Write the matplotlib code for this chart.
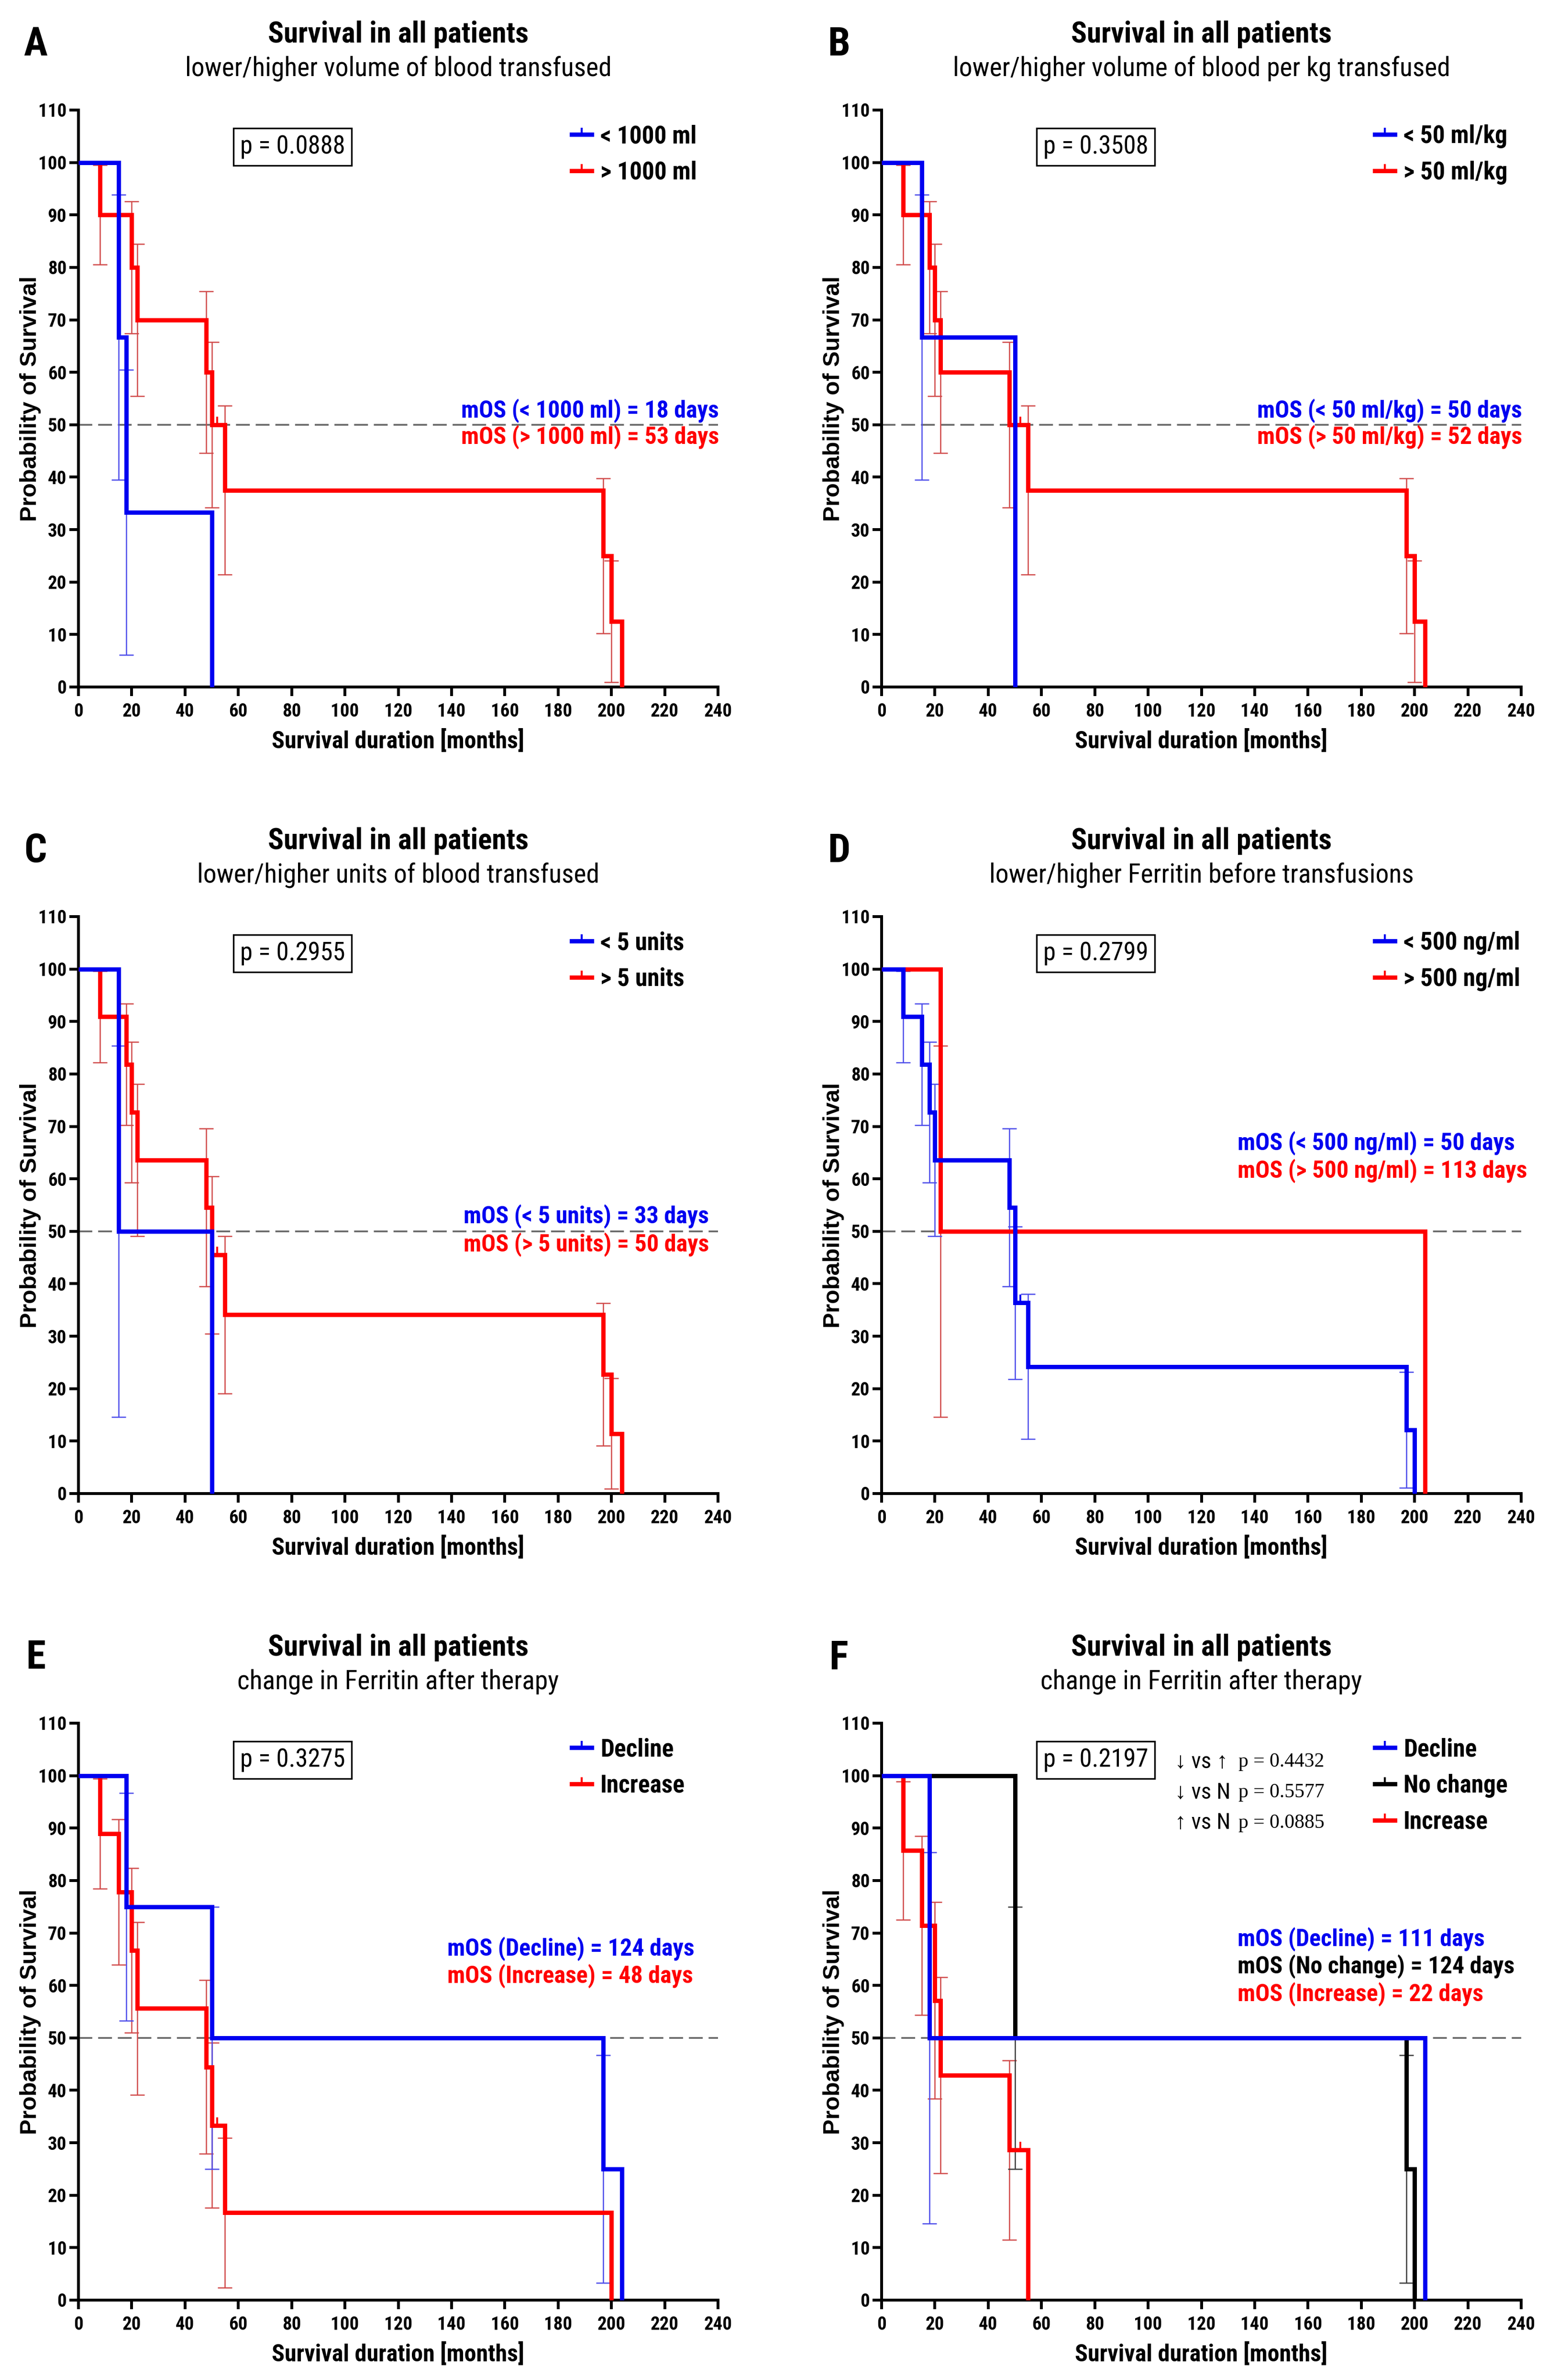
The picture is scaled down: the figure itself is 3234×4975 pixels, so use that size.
import numpy as np
import matplotlib
matplotlib.use("Agg")
import matplotlib.pyplot as plt
from matplotlib import font_manager
from matplotlib.path import Path
from matplotlib.lines import Line2D


# =====================================================
# 1. DATA (months, survival in %)
# =====================================================
title = "Survival in all patients"

# A - volume of blood transfused
a_sub = "lower/higher volume of blood transfused"
a_p = "p = 0.0888"
a_labels = ["< 1000 ml", "> 1000 ml"]
a_mos = ["mOS (< 1000 ml) = 18 days", "mOS (> 1000 ml) = 53 days"]
a_lo_t = [0, 15, 18, 50]
a_lo_s = [100, 66.7, 33.3, 0]
a_lo_eb_t = [15, 18]
a_lo_eb_min = [39.5, 6.1]
a_lo_eb_max = [93.9, 60.5]
a_hi_t = [0, 8, 20, 22, 48, 50, 55, 197, 200, 204]
a_hi_s = [100, 90, 80, 70, 60, 50, 37.5, 25, 12.5, 0]
a_hi_eb_t = [8, 20, 22, 48, 50, 55, 197, 200]
a_hi_eb_min = [80.5, 67.4, 55.5, 44.6, 34.2, 21.4, 10.2, 0.9]
a_hi_eb_max = [99.5, 92.6, 84.5, 75.4, 65.8, 53.6, 39.8, 24.1]
a_hi_cens = [52]

# B - volume of blood per kg
b_sub = "lower/higher volume of blood per kg transfused"
b_p = "p = 0.3508"
b_labels = ["< 50 ml/kg", "> 50 ml/kg"]
b_mos = ["mOS (< 50 ml/kg) = 50 days", "mOS (> 50 ml/kg) = 52 days"]
b_lo_t = [0, 15, 50]
b_lo_s = [100, 66.7, 0]
b_lo_eb_t = [15]
b_lo_eb_min = [39.5]
b_lo_eb_max = [93.9]
b_hi_t = [0, 8, 18, 20, 22, 48, 55, 197, 200, 204]
b_hi_s = [100, 90, 80, 70, 60, 50, 37.5, 25, 12.5, 0]
b_hi_eb_t = [8, 18, 20, 22, 48, 55, 197, 200]
b_hi_eb_min = [80.5, 67.4, 55.5, 44.6, 34.2, 21.4, 10.2, 0.9]
b_hi_eb_max = [99.5, 92.6, 84.5, 75.4, 65.8, 53.6, 39.8, 24.1]
b_hi_cens = [52]

# C - units of blood
c_sub = "lower/higher units of blood transfused"
c_p = "p = 0.2955"
c_labels = ["< 5 units", "> 5 units"]
c_mos = ["mOS (< 5 units) = 33 days", "mOS (> 5 units) = 50 days"]
c_lo_t = [0, 15, 50]
c_lo_s = [100, 50, 0]
c_lo_eb_t = [15]
c_lo_eb_min = [14.6]
c_lo_eb_max = [85.4]
c_hi_t = [0, 8, 18, 20, 22, 48, 50, 55, 197, 200, 204]
c_hi_s = [100, 90.9, 81.8, 72.7, 63.6, 54.5, 45.5, 34.1, 22.7, 11.4, 0]
c_hi_eb_t = [8, 18, 20, 22, 48, 50, 55, 197, 200]
c_hi_eb_min = [82.2, 70.2, 59.3, 49.1, 39.5, 30.5, 19.1, 9.1, 0.9]
c_hi_eb_max = [99.6, 93.4, 86.1, 78.1, 69.6, 60.5, 49.1, 36.3, 22.0]
c_hi_cens = [52]

# D - ferritin before transfusions
d_sub = "lower/higher Ferritin before transfusions"
d_p = "p = 0.2799"
d_labels = ["< 500 ng/ml", "> 500 ng/ml"]
d_mos = ["mOS (< 500 ng/ml) = 50 days", "mOS (> 500 ng/ml) = 113 days"]
d_lo_t = [0, 8, 15, 18, 20, 48, 50, 55, 197, 200]
d_lo_s = [100, 90.9, 81.8, 72.7, 63.6, 54.5, 36.4, 24.2, 12.1, 0]
d_lo_eb_t = [8, 15, 18, 20, 48, 50, 55, 197]
d_lo_eb_min = [82.2, 70.2, 59.3, 49.1, 39.5, 21.8, 10.4, 1.1]
d_lo_eb_max = [99.6, 93.4, 86.1, 78.1, 69.6, 50.9, 38.0, 23.2]
d_lo_cens = [52]
d_hi_t = [0, 22, 204]
d_hi_s = [100, 50, 0]
d_hi_eb_t = [22]
d_hi_eb_min = [14.6]
d_hi_eb_max = [85.4]

# E - change in ferritin (2 groups)
e_sub = "change in Ferritin after therapy"
e_p = "p = 0.3275"
e_labels = ["Decline", "Increase"]
e_mos = ["mOS (Decline) = 124 days", "mOS (Increase) = 48 days"]
e_dec_t = [0, 18, 50, 197, 204]
e_dec_s = [100, 75, 50, 25, 0]
e_dec_eb_t = [18, 50, 197]
e_dec_eb_min = [53.3, 25.0, 3.3]
e_dec_eb_max = [96.7, 75.0, 46.7]
e_inc_t = [0, 8, 15, 20, 22, 48, 50, 55, 200]
e_inc_s = [100, 88.9, 77.8, 66.7, 55.6, 44.4, 33.3, 16.7, 0]
e_inc_eb_t = [8, 15, 20, 22, 48, 50, 55]
e_inc_eb_min = [78.4, 63.9, 51.0, 39.1, 27.9, 17.6, 2.4]
e_inc_eb_max = [99.4, 91.7, 82.4, 72.1, 61.0, 49.1, 30.9]
e_inc_cens = [52]

# F - change in ferritin (3 groups)
f_sub = "change in Ferritin after therapy"
f_p = "p = 0.2197"
f_labels = ["Decline", "No change", "Increase"]
f_mos = ["mOS (Decline) = 111 days", "mOS (No change) = 124 days", "mOS (Increase) = 22 days"]
f_pair_lab = ["\u2193 vs \u2191", "\u2193 vs N", "\u2191 vs N"]
f_pair_p = ["p = 0.4432", "p = 0.5577", "p = 0.0885"]
f_dec_t = [0, 18, 204]
f_dec_s = [100, 50, 0]
f_dec_eb_t = [18]
f_dec_eb_min = [14.6]
f_dec_eb_max = [85.4]
f_nc_t = [0, 50, 197, 200]
f_nc_s = [100, 50, 25, 0]
f_nc_eb_t = [50, 197]
f_nc_eb_min = [25.0, 3.3]
f_nc_eb_max = [75.0, 46.7]
f_inc_t = [0, 8, 15, 20, 22, 48, 55]
f_inc_s = [100, 85.7, 71.4, 57.1, 42.9, 28.6, 0]
f_inc_eb_t = [8, 15, 20, 22, 48]
f_inc_eb_min = [72.5, 54.4, 38.4, 24.2, 11.5]
f_inc_eb_max = [98.9, 88.5, 75.9, 61.6, 45.7]
f_inc_cens = [52]

x_ticks = list(range(0, 241, 20))
y_ticks = list(range(0, 111, 10))


# =====================================================
# 2. STYLE
# =====================================================
# the original figure is horizontally squeezed -> use a narrow face if there is one
fonts = font_manager.fontManager.ttflist
bold_ok = {f.name for f in fonts if f.weight in (700, "bold")}
SANS, K = "Liberation Sans", 0.9
for cand in ["Liberation Sans Narrow", "Arial Narrow", "Roboto Condensed",
             "PT Sans Narrow", "Archivo Narrow", "Open Sans Condensed"]:
    if cand in bold_ok:
        SANS, K = cand, 1.0
        break

plt.rcParams["font.family"] = [SANS, "Liberation Sans", "DejaVu Sans"]
plt.rcParams["font.weight"] = "bold"

BLUE, RED, BLACK = "#0000f0", "#ff0000", "#000000"
EB_COL = {BLUE: "#4b4bea", RED: "#d04848", BLACK: "#3a3a3a"}
LW = 6.5
TICK = Path([(0, 0), (0, 1)], [Path.MOVETO, Path.LINETO])

W, H = 3234, 4975
AX_W, AX_H = 1337 / W, 1206 / H
COLS = [164 / W, 1843 / W]
ROWS = [(H - 1436) / H, (H - 3122) / H, (H - 4808) / H]


def km(ax, t, s, color, eb_t, eb_min, eb_max, cens=None, z=3):
    t = np.array(t, float)
    s = np.array(s, float)
    ax.plot(t, s, drawstyle="steps-post", color=color, lw=LW, zorder=z,
            clip_on=False, solid_joinstyle="miter", solid_capstyle="butt")
    idx = np.searchsorted(t, eb_t, side="right") - 1
    ys = s[idx]
    err = [ys - np.array(eb_min), np.array(eb_max) - ys]
    ax.errorbar(eb_t, ys, yerr=err, fmt="none", ecolor=EB_COL[color],
                elinewidth=1.8, capsize=11, capthick=1.8, zorder=2, clip_on=False)
    if cens:
        ic = np.searchsorted(t, cens, side="right") - 1
        ax.plot(cens, s[ic], ls="none", marker=TICK, ms=24, mew=2.8,
                color=color, zorder=z)


def panel(ax, letter, sub, ptxt, curves, labels, mos, mos_x, mos_y):
    ax.set_xlim(0, 240)
    ax.set_ylim(0, 110)
    ax.set_xticks(x_ticks)
    ax.set_yticks(y_ticks)
    for sp in ["top", "right"]:
        ax.spines[sp].set_visible(False)
    for sp in ["left", "bottom"]:
        ax.spines[sp].set_linewidth(4.3)
    ax.tick_params(axis="both", width=4.3, length=14, labelsize=28 * K)
    ax.tick_params(axis="x", pad=10)
    ax.tick_params(axis="y", pad=4)

    ax.axhline(50, color="#666666", lw=2.6, ls=(0, (8, 3.4)), zorder=1)

    for (t, s, eb_t, eb_min, eb_max, cens, color, z) in curves:
        km(ax, t, s, color, eb_t, eb_min, eb_max, cens, z)

    ax.set_xlabel("Survival duration [months]", fontsize=36 * K, fontweight="bold")
    ax.xaxis.set_label_coords(0.5, -0.073)
    ax.set_ylabel("Probability of Survival", fontsize=35, fontweight="bold",
                  family=["Liberation Sans", "DejaVu Sans"])
    ax.yaxis.set_label_coords(-0.058, 0.5)

    ax.text(0.5, 1.131, title, transform=ax.transAxes, ha="center", va="center",
            fontsize=44 * K, fontweight="bold")
    ax.text(0.5, 1.072, sub, transform=ax.transAxes, ha="center", va="center",
            fontsize=40 * K, fontweight="normal")
    ax.text(-0.067, 1.113, letter, transform=ax.transAxes, ha="center", va="center",
            fontsize=60 * K, fontweight="bold")

    ax.text(80.3, 103, ptxt, ha="center", va="center", fontsize=38 * K,
            fontweight="normal",
            bbox=dict(boxstyle="square,pad=0.26", fc="white", ec="black", lw=2.4))

    # legend and median texts follow legend order (blue first)
    leg_colors = [c[6] for c in curves][::-1]
    handles = [Line2D([], [], color=c, lw=LW, marker=TICK, ms=20, mew=3)
               for c in leg_colors]
    ax.legend(handles, labels, loc="upper left", bbox_to_anchor=(185 / 240, 0.975),
              frameon=False, borderpad=0, borderaxespad=0, numpoints=1,
              handlelength=0.82, handletextpad=0.35, labelspacing=0.5,
              prop={"size": 37 * K, "weight": "bold"})

    for txt, yy, c in zip(mos, mos_y, leg_colors):
        ax.text(mos_x, yy, txt, color=c, ha="left", va="center",
                fontsize=36 * K, fontweight="bold")


# =====================================================
# 3. FIGURE
# =====================================================
fig = plt.figure(figsize=(W / 100, H / 100), dpi=100)

axA = fig.add_axes([COLS[0], ROWS[0], AX_W, AX_H])
panel(axA, "A", a_sub, a_p,
      [(a_hi_t, a_hi_s, a_hi_eb_t, a_hi_eb_min, a_hi_eb_max, a_hi_cens, RED, 3),
       (a_lo_t, a_lo_s, a_lo_eb_t, a_lo_eb_min, a_lo_eb_max, None, BLUE, 5)],
      a_labels, a_mos, 143.6, [52.7, 47.6])

axB = fig.add_axes([COLS[1], ROWS[0], AX_W, AX_H])
panel(axB, "B", b_sub, b_p,
      [(b_hi_t, b_hi_s, b_hi_eb_t, b_hi_eb_min, b_hi_eb_max, b_hi_cens, RED, 3),
       (b_lo_t, b_lo_s, b_lo_eb_t, b_lo_eb_min, b_lo_eb_max, None, BLUE, 5)],
      b_labels, b_mos, 141.0, [52.7, 47.6])

axC = fig.add_axes([COLS[0], ROWS[1], AX_W, AX_H])
panel(axC, "C", c_sub, c_p,
      [(c_hi_t, c_hi_s, c_hi_eb_t, c_hi_eb_min, c_hi_eb_max, c_hi_cens, RED, 3),
       (c_lo_t, c_lo_s, c_lo_eb_t, c_lo_eb_min, c_lo_eb_max, None, BLUE, 5)],
      c_labels, c_mos, 144.5, [52.8, 47.5])

axD = fig.add_axes([COLS[1], ROWS[1], AX_W, AX_H])
panel(axD, "D", d_sub, d_p,
      [(d_hi_t, d_hi_s, d_hi_eb_t, d_hi_eb_min, d_hi_eb_max, None, RED, 3),
       (d_lo_t, d_lo_s, d_lo_eb_t, d_lo_eb_min, d_lo_eb_max, d_lo_cens, BLUE, 5)],
      d_labels, d_mos, 133.6, [66.8, 61.5])

axE = fig.add_axes([COLS[0], ROWS[2], AX_W, AX_H])
panel(axE, "E", e_sub, e_p,
      [(e_inc_t, e_inc_s, e_inc_eb_t, e_inc_eb_min, e_inc_eb_max, e_inc_cens, RED, 3),
       (e_dec_t, e_dec_s, e_dec_eb_t, e_dec_eb_min, e_dec_eb_max, None, BLUE, 5)],
      e_labels, e_mos, 138.4, [67.0, 61.8])

axF = fig.add_axes([COLS[1], ROWS[2], AX_W, AX_H])
panel(axF, "F", f_sub, f_p,
      [(f_inc_t, f_inc_s, f_inc_eb_t, f_inc_eb_min, f_inc_eb_max, f_inc_cens, RED, 3),
       (f_nc_t, f_nc_s, f_nc_eb_t, f_nc_eb_min, f_nc_eb_max, None, BLACK, 4),
       (f_dec_t, f_dec_s, f_dec_eb_t, f_dec_eb_min, f_dec_eb_max, None, BLUE, 5)],
      f_labels, f_mos, 133.6, [68.8, 63.6, 58.3])

# pairwise comparisons in F
for lab, pv, yy in zip(f_pair_lab, f_pair_p, [102.6, 96.8, 91.0]):
    axF.text(110, yy, lab, ha="left", va="center", fontsize=34 * K,
             fontweight="normal")
    axF.text(134.0, yy, pv, ha="left", va="center", fontsize=30,
             fontweight="normal", family=["Liberation Serif", "DejaVu Serif"])

fig.savefig("out.png", dpi=100)
